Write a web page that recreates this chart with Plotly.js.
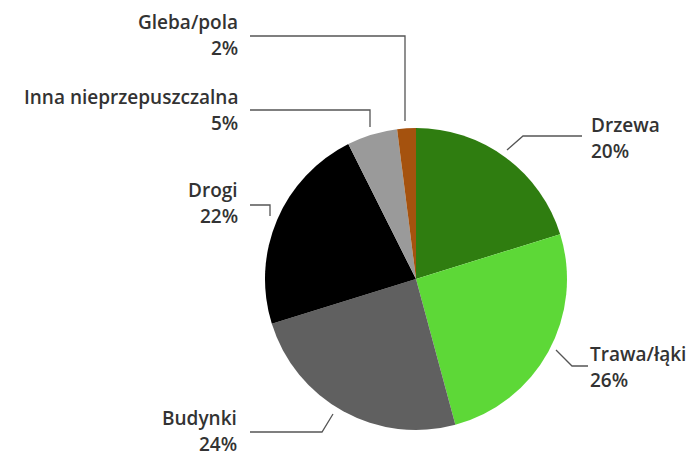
<!DOCTYPE html>
<html>
<head>
<meta charset="utf-8">
<script src="https://cdn.plot.ly/plotly-3.0.1.min.js"></script>
<style>html,body{margin:0;padding:0;background:#fff;}#chart{width:697px;height:456px;}</style>
</head>
<body>
<div id="chart"></div>
<script>
// Data
const categories = ["Drzewa", "Trawa/łąki", "Budynki", "Drogi", "Inna nieprzepuszczalna", "Gleba/pola"];
const shares = [20.2, 25.6, 24.4, 22.4, 5.4, 2.0];
const percentLabels = ["20%", "26%", "24%", "22%", "5%", "2%"];
const sliceColors = ["#2f7d10", "#5dd837", "#606060", "#000000", "#9a9a9a", "#a5520e"];

const W = 697, H = 456;
const px = x => x / W;
const py = y => 1 - y / H;

// Label placement (pixel positions of text, side)
const labelPos = [
  {x: 589, y: 125, side: "left"},   // Drzewa
  {x: 588, y: 354, side: "left"},   // Trawa
  {x: 239, y: 418, side: "right"},  // Budynki
  {x: 240, y: 190, side: "right"},  // Drogi
  {x: 240, y: 97,  side: "right"},  // Inna
  {x: 240, y: 22,  side: "right"}   // Gleba
];
const leaders = [
  [[507,150],[523,136],[582,136]],
  [[556,350],[572,366],[588,366]],
  [[333,414],[322,432],[250,432]],
  [[250,205],[270,205],[270,216]],
  [[250,110],[370,110],[370,127]],
  [[250,36],[405,36],[405,121]]
];

const font = {family: "'Open Sans', sans-serif", size: 19, color: "#333333", weight: 600};
const annotations = [];
categories.forEach((c, i) => {
  const p = labelPos[i];
  const anchor = p.side === "left" ? "left" : "right";
  annotations.push({xref: "paper", yref: "paper", x: px(p.x), y: py(p.y), text: c,
    showarrow: false, xanchor: anchor, yanchor: "middle", font: font});
  annotations.push({xref: "paper", yref: "paper", x: px(p.x), y: py(p.y + 26), text: percentLabels[i],
    showarrow: false, xanchor: anchor, yanchor: "middle", font: font});
});
const shapes = leaders.map(pts => ({
  type: "path", xref: "paper", yref: "paper",
  path: "M " + pts.map(q => px(q[0]) + "," + py(q[1])).join(" L "),
  line: {color: "#555555", width: 1.3}
}));

const trace = {
  type: "pie",
  labels: categories,
  values: shares,
  marker: {colors: sliceColors, line: {width: 0}},
  sort: false,
  direction: "clockwise",
  rotation: 0,
  textinfo: "none",
  hoverinfo: "label+percent",
  domain: {x: [px(265), px(567)], y: [py(430), py(128)]},
  showlegend: false
};

Plotly.newPlot("chart", [trace], {
  width: W, height: H,
  margin: {l: 0, r: 0, t: 0, b: 0},
  paper_bgcolor: "#ffffff",
  showlegend: false,
  annotations: annotations,
  shapes: shapes
}, {displayModeBar: false, staticPlot: true});
</script>
</body>
</html>
